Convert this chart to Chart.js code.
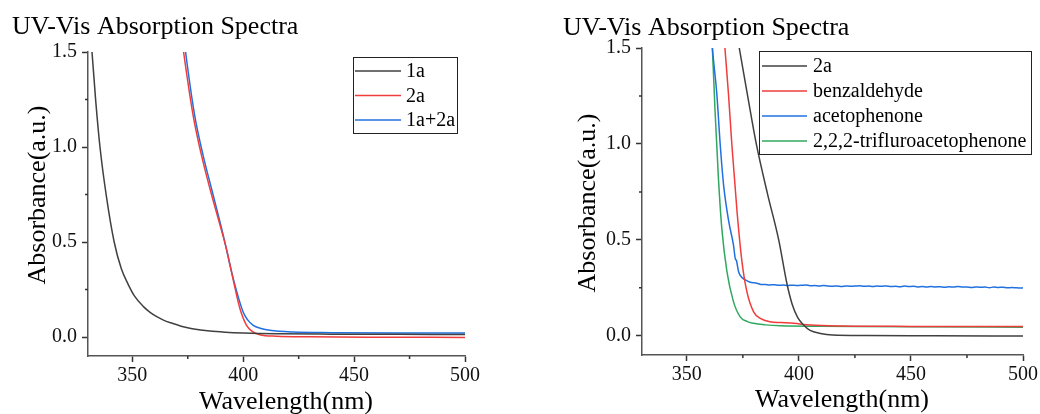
<!DOCTYPE html>
<html>
<head>
<meta charset="utf-8">
<script src="https://cdn.jsdelivr.net/npm/chart.js@4.4.0/dist/chart.umd.min.js"></script>
<style>
  html, body { margin: 0; padding: 0; background: #fff; }
  .wrap { position: absolute; top: 0; width: 520px; height: 414px; }
</style>
</head>
<body>
<div class="wrap" style="left:0"><canvas id="left" width="520" height="414"></canvas></div>
<div class="wrap" style="left:520px"><canvas id="right" width="520" height="414"></canvas></div>
<script>
// axis ticks (shared by both panels)
var xMajor = [350, 400, 450, 500];
var xMinor = [375, 425, 475];
var yMajor = [0, 0.5, 1.0, 1.5];
var yMinor = [0.25, 0.75, 1.25];

var chartTitle = 'UV-Vis Absorption Spectra';
var xTitle = 'Wavelength(nm)';
var yTitle = 'Absorbance(a.u.)';

// left panel
var wl1a  = [330, 331, 331.8, 333.5, 335.4, 338.3, 341.8, 345, 348, 351, 355, 358, 361, 364, 368, 372, 377, 385, 392, 400, 415, 440, 470, 500];
var abs1a = [1.78, 1.6, 1.5, 1.24, 1.0, 0.74, 0.5, 0.36, 0.28, 0.215, 0.16, 0.13, 0.107, 0.089, 0.072, 0.057, 0.044, 0.031, 0.025, 0.021, 0.017, 0.015, 0.014, 0.013];

var wl2a  = [372, 373.1, 377.4, 380.5, 385, 389.5, 392.5, 395.5, 398.5, 401.5, 404, 407.5, 415, 430, 460, 500];
var abs2a = [1.6, 1.5, 1.166, 0.99, 0.78, 0.59, 0.46, 0.3, 0.15, 0.061, 0.03, 0.012, 0.004, 0.001, -0.001, -0.002];

var wlMix  = [373, 374, 378.1, 381.9, 386, 391, 395.5, 400, 402, 404.5, 408, 412, 422.5, 440, 470, 500];
var absMix = [1.6, 1.5, 1.166, 0.956, 0.767, 0.535, 0.307, 0.13, 0.09, 0.061, 0.045, 0.035, 0.026, 0.023, 0.021, 0.021];

// right panel
var wl2aR  = [372, 373.4, 377, 381, 386, 391, 394.7, 397, 399.5, 402.1, 405, 409.6, 415, 430, 460, 500];
var abs2aR = [1.6, 1.5, 1.26, 1.0, 0.74, 0.5, 0.27, 0.165, 0.095, 0.056, 0.028, 0.0125, 0.004, 0.001, 0, -0.001];

var wlBenz  = [366, 367, 368.6, 370.1, 372.4, 374.6, 376.8, 379.8, 382.8, 387.2, 392, 397.7, 405.1, 420, 450, 500];
var absBenz = [1.65, 1.5, 1.258, 0.996, 0.648, 0.387, 0.23, 0.125, 0.091, 0.073, 0.069, 0.065, 0.056, 0.051, 0.049, 0.048];

var wlAcet  = [360.5, 361.4, 363.4, 364.9, 366.4, 368.7, 370.8, 371.6, 372.2, 373.1, 374.5, 376.1, 378, 381.3,
               383, 385, 387, 389, 391, 393, 395, 397, 399, 401, 403, 405, 407, 409, 411, 413, 415, 417, 419, 421,
               423, 425, 427, 429, 431, 433, 435, 437, 439, 441, 443, 445, 447, 449, 451, 453, 455, 457, 459, 461,
               463, 465, 467, 469, 471, 473, 475, 477, 479, 481, 483, 485, 487, 489, 491, 493, 495, 497, 499, 500];
var absAcet = [1.65, 1.5, 1.258, 0.996, 0.787, 0.596, 0.474, 0.404, 0.39, 0.334, 0.305, 0.291, 0.28, 0.274,
               0.268, 0.267, 0.265, 0.266, 0.263, 0.265, 0.262, 0.264, 0.262, 0.263, 0.265, 0.261, 0.262, 0.260, 0.262, 0.259, 0.258, 0.260, 0.257, 0.260,
               0.258, 0.259, 0.261, 0.258, 0.259, 0.257, 0.259, 0.258, 0.260, 0.257, 0.258, 0.256, 0.259, 0.257, 0.258, 0.255, 0.257, 0.254, 0.257, 0.255,
               0.256, 0.253, 0.256, 0.254, 0.257, 0.254, 0.255, 0.252, 0.255, 0.253, 0.254, 0.251, 0.254, 0.252, 0.253, 0.250, 0.252, 0.250, 0.249, 0.250];

var wlTfa  = [360.5, 361.4, 362.6, 364.1, 365.6, 367.9, 370.8, 373.8, 376.8, 379.8, 385, 391.7, 410, 450, 500];
var absTfa = [1.65, 1.5, 1.17, 0.822, 0.561, 0.334, 0.178, 0.099, 0.075, 0.065, 0.057, 0.052, 0.05, 0.047, 0.045];

var FONT = "'Liberation Serif', 'Times New Roman', serif";
var GRAY = '#404040', RED = '#f03c3c', BLUE = '#2070e0', GREEN = '#30a860';

Chart.defaults.font.family = FONT;

function toPoints(xs, ys) {
  var pts = [];
  for (var i = 0; i < xs.length; i++) pts.push({x: xs[i], y: ys[i]});
  return pts;
}

function dataset(label, xs, ys, color) {
  return {
    label: label,
    data: toPoints(xs, ys),
    borderColor: color,
    borderWidth: 1.5,
    pointRadius: 0,
    fill: false,
    cubicInterpolationMode: 'monotone'
  };
}

// titles, minor ticks and the boxed legend, placed like the Origin export
var decor = {
  id: 'decor',
  afterDatasetsDraw: function(chart) {
    var o = chart.options.plugins.decor;
    var ctx = chart.ctx;
    var area = chart.chartArea;
    var xs = chart.scales.x, ys = chart.scales.y;
    ctx.save();

    // minor ticks
    ctx.strokeStyle = '#333';
    ctx.lineWidth = 1.5;
    ctx.beginPath();
    xMinor.forEach(function(v) {
      var px = xs.getPixelForValue(v);
      ctx.moveTo(px, area.bottom);
      ctx.lineTo(px, area.bottom + 3);
    });
    yMinor.forEach(function(v) {
      var py = ys.getPixelForValue(v);
      ctx.moveTo(area.left - 3, py);
      ctx.lineTo(area.left, py);
    });
    ctx.stroke();

    // legend
    var lg = o.legend;
    ctx.fillStyle = '#fff';
    ctx.fillRect(lg.x, lg.y, lg.w, lg.h);
    ctx.strokeStyle = '#222';
    ctx.lineWidth = 1;
    ctx.strokeRect(lg.x + 0.5, lg.y + 0.5, lg.w, lg.h);
    ctx.font = '20px ' + FONT;
    ctx.textBaseline = 'middle';
    ctx.textAlign = 'left';
    chart.data.datasets.forEach(function(ds, i) {
      var ry = lg.row0 + i * lg.step;
      ctx.strokeStyle = ds.borderColor;
      ctx.lineWidth = 1.5;
      ctx.beginPath();
      ctx.moveTo(lg.x1, ry);
      ctx.lineTo(lg.x2, ry);
      ctx.stroke();
      ctx.fillStyle = '#000';
      ctx.fillText(ds.label, lg.tx, ry + 1);
    });

    // chart title and axis titles
    ctx.fillStyle = '#000';
    ctx.font = '26px ' + FONT;
    ctx.textBaseline = 'alphabetic';
    ctx.textAlign = 'left';
    ctx.fillText(chartTitle, o.titleX, o.titleY);
    ctx.textAlign = 'center';
    ctx.fillText(xTitle, o.xTitleX, o.xTitleY);
    ctx.translate(o.yTitleX, o.yTitleY);
    ctx.rotate(-Math.PI / 2);
    ctx.fillText(yTitle, 0, 0);
    ctx.restore();
  }
};

function makeChart(id, datasets, L) {
  return new Chart(document.getElementById(id), {
    type: 'line',
    data: {datasets: datasets},
    plugins: [decor],
    options: {
      responsive: false,
      animation: false,
      devicePixelRatio: 1,
      layout: {padding: {left: 0, top: L.top, right: L.right, bottom: 0}},
      scales: {
        x: {
          type: 'linear', min: 330, max: 500,
          afterBuildTicks: function(s) { s.ticks = xMajor.map(function(v) { return {value: v}; }); },
          afterFit: function(s) { s.height = L.xAxisH; },
          ticks: {font: {family: FONT, size: 20}, color: '#111', padding: 2, maxRotation: 0, autoSkip: false,
                  callback: function(v) { return String(v); }},
          grid: {drawOnChartArea: false, tickLength: 6, tickColor: '#333', tickWidth: 1.5},
          border: {color: '#555', width: 1.5}
        },
        y: {
          type: 'linear', min: -0.1, max: 1.5,
          afterBuildTicks: function(s) { s.ticks = yMajor.map(function(v) { return {value: v}; }); },
          afterFit: function(s) { s.width = L.yAxisW; },
          ticks: {font: {family: FONT, size: 20}, color: '#111', padding: 5,
                  callback: function(v) { return v.toFixed(1); }},
          grid: {drawOnChartArea: false, tickLength: 6, tickColor: '#333', tickWidth: 1.5},
          border: {color: '#555', width: 1.5}
        }
      },
      plugins: {
        legend: {display: false},
        tooltip: {enabled: false},
        decor: L.decor
      }
    }
  });
}

makeChart('left', [
  dataset('1a', wl1a, abs1a, GRAY),
  dataset('2a', wl2a, abs2a, RED),
  dataset('1a+2a', wlMix, absMix, BLUE)
], {
  top: 52, right: 55, yAxisW: 88, xAxisH: 58,
  decor: {
    titleX: 12, titleY: 34,
    xTitleX: 286, xTitleY: 409,
    yTitleX: 45, yTitleY: 195,
    legend: {x: 353, y: 57, w: 104, h: 76, row0: 71, step: 24.5, x1: 355, x2: 401, tx: 406}
  }
});

makeChart('right', [
  dataset('2a', wl2aR, abs2aR, GRAY),
  dataset('benzaldehyde', wlBenz, absBenz, RED),
  dataset('acetophenone', wlAcet, absAcet, BLUE),
  dataset('2,2,2-trifluroacetophenone', wlTfa, absTfa, GREEN)
], {
  top: 48, right: 17, yAxisW: 122, xAxisH: 59,
  decor: {
    titleX: 43, titleY: 35,
    xTitleX: 322, xTitleY: 407,
    yTitleX: 75, yTitleY: 203,
    legend: {x: 239, y: 51, w: 272, h: 103, row0: 66, step: 25, x1: 242, x2: 287, tx: 293}
  }
});
</script>
</body>
</html>
